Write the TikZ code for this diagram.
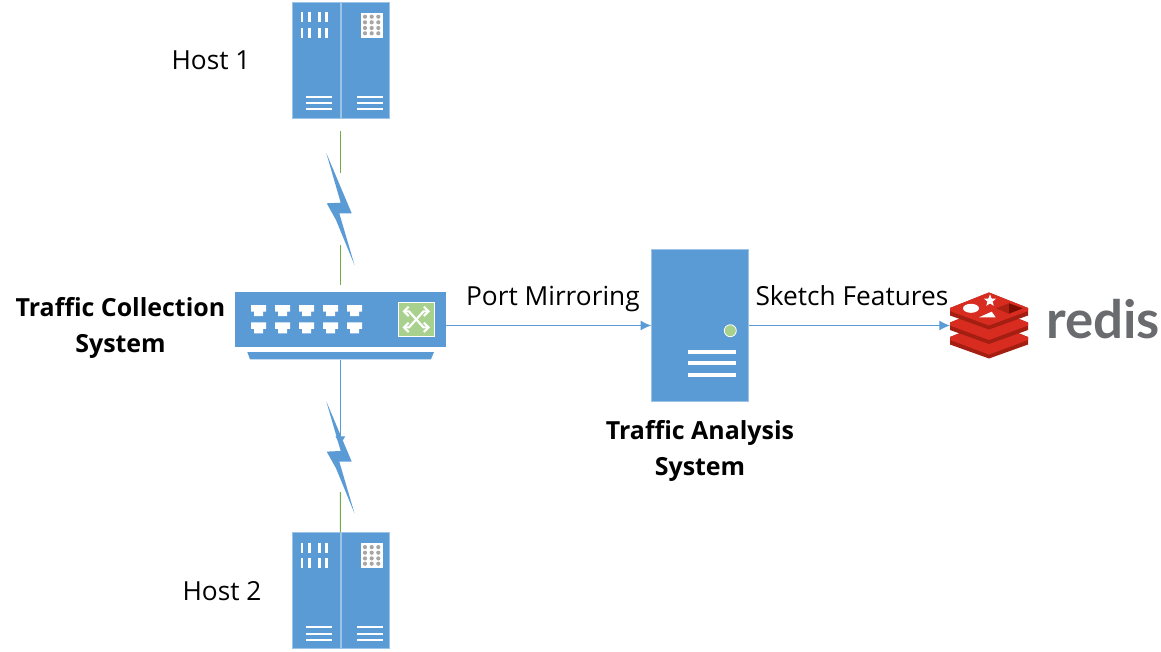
\documentclass[tikz,border=0pt]{standalone}
\usepackage{fontspec}
\setmainfont{Open Sans}
\newfontfamily\logofont{Lato}
\usetikzlibrary{arrows.meta, shapes.geometric}
\definecolor{iconblue}{HTML}{5B9BD5}
\definecolor{iconedge}{HTML}{9DC3E6}
\definecolor{icongreen}{HTML}{A9D18E}
\definecolor{linkgreen}{HTML}{70AD47}
\definecolor{dotgray}{HTML}{A6A6A6}
\definecolor{redisface}{HTML}{D82C20}
\definecolor{redisside}{HTML}{A41E11}
\definecolor{redisdark}{HTML}{7A0C00}
\definecolor{redismid}{HTML}{AD2115}
\definecolor{redistext}{HTML}{6A6B6E}
\begin{document}
\begin{tikzpicture}[x=0.75pt, y=-0.75pt,
  every node/.style={font=\fontsize{19.7}{27}\selectfont, inner sep=0pt, text=black},
  box/.style={draw=iconedge, fill=iconblue, line width=0.6pt, minimum width=#1, rectangle},
  hostbox/.style={box=36pt, minimum height=87pt},
  label/.style={anchor=base, align=center},
  title/.style={anchor=base, align=center, font=\fontsize{18.7}{27}\selectfont\bfseries},
  wire/.style={iconblue, line width=0.8pt},
  greenwire/.style={linkgreen, line width=0.8pt},
  flow/.style={wire, -{Latex[length=8pt, width=7.5pt]}},
  bolt/.style={fill=iconblue, draw=none},
  whitebar/.style={white, line width=1.6pt},
  swap/.style={white, line width=1.6pt, {Straight Barb[length=3.5pt, width=7pt]}-{Straight Barb[length=3.5pt, width=7pt]}}]
  \useasboundingbox (0,0) rectangle (1161,651);
  % hosts
  \foreach \n/\dy in {1/0, 2/530.4} {
    \node[hostbox] (host\n a) at (316,60+\dy) {};
    \node[hostbox] (host\n b) at (365,60+\dy) {};
    \foreach \bx in {302,309.3,319.6,326.8}
      \foreach \by in {17.3,32.7}
        \draw[white, line width=2pt] (\bx,\by-5+\dy) -- (\bx,\by+5+\dy);
    \foreach \by in {97,103.3,109.3} {
      \draw[whitebar] (305.7,\by+\dy) -- (331.7,\by+\dy);
      \draw[whitebar] (357,\by+\dy) -- (382.7,\by+\dy);
    }
    \fill[white] (361,12.7+\dy) rectangle (382.7,37.7+\dy);
    \foreach \bx in {365,371.7,378.3}
      \foreach \by in {16.7,22.3,28,33.3}
        \fill[dotgray] (\bx,\by+\dy) circle (2.1);
  }
  \node[label] (hostlabel1) at (211,69) {Host 1};
  \node[label] (hostlabel2) at (222,600) {Host 2};
  % switch
  \node[box=158.25pt, minimum height=41.5pt, draw=none] (switch) at (340.5,319.3) {};
  \node[box=140pt, minimum height=5.4pt, draw=none, fill=none] (switchbase) at (340.6,355.6) {};
  \fill[iconblue] (247.3,352) -- (434,352) -- (431,359.3) -- (250,359.3) -- cycle;
  \foreach \px in {258.7,282.7,306.7,330.7,354.5}
    \foreach \py in {305,322.3}
      \fill[white] (\px-7.5,\py) -- (\px+7.5,\py) -- (\px+7.5,\py+6.5) -- (\px+4.5,\py+6.5)
        -- (\px+4.5,\py+11) -- (\px-4.5,\py+11) -- (\px-4.5,\py+6.5) -- (\px-7.5,\py+6.5) -- cycle;
  \node[rectangle, draw=white, fill=icongreen, line width=0.7pt, minimum width=27.5pt, minimum height=25.5pt] (fabric) at (416.3,319.4) {};
  \draw[swap] (402.5,311.4) -- (409,311.4) -- (423.5,327.4) -- (430,327.4);
  \draw[swap] (402.5,327.4) -- (409,327.4) -- (423.5,311.4) -- (430,311.4);
  \node[title] (collect) at (120.5,352) {Traffic Collection\\System};
  % server
  \node[box=72.8pt, minimum height=114.3pt] (server) at (700.2,325.5) {};
  \node[circle, draw=white, fill=icongreen, line width=0.6pt, minimum size=9pt] (led) at (730.3,330.7) {};
  \foreach \by in {352,363.3,375}
    \draw[white, line width=3pt] (688.3,\by) -- (736.3,\by);
  \node[title] (analysis) at (700,475) {Traffic Analysis\\System};
  % links
  \coordinate (up1) at (340.3,131);
  \coordinate (up2) at (340.3,173);
  \coordinate (up3) at (340.3,245);
  \coordinate (up4) at (340.3,285);
  \coordinate (down1) at (340.3,447);
  \coordinate (down2) at (340.3,492);
  \coordinate (redislogo) at (950,325.5);
  \draw[greenwire] (up1) -- (up2);
  \draw[greenwire] (up3) -- (up4);
  \draw[flow] (switchbase.south -| down1) -- (down1);
  \draw[greenwire] (down2) -- (host2a.north east);
  \foreach \dy in {0,248.3}
    \fill[bolt] (326.3,153+\dy) -- (340.7,202.7+\dy) -- (326.7,203.3+\dy) -- (336,220+\dy)
      -- (354.5,265+\dy) -- (339.3,213.3+\dy) -- (351.7,213.3+\dy) -- cycle;
  \draw[flow] (switch.east |- server.west) -- (server.west)
    node[pos=0.52, label, yshift=15pt] (mirror) {Port Mirroring};
  \draw[flow] (server.east) -- (redislogo)
    node[pos=0.512, label, yshift=15pt] (features) {Sketch Features};
  % redis logo
  \foreach \dy in {29,14.5,0} {
    \fill[redisside] (950,308+\dy) -- (989,292.5+\dy) -- (1028,308+\dy) -- (1028,315.5+\dy)
      -- (989,329.5+\dy) -- (950,315.5+\dy) -- cycle;
    \fill[redisface] (950,308+\dy) -- (989,292.5+\dy) -- (1028,308+\dy) -- (1028,311+\dy)
      -- (989,325.5+\dy) -- (950,311+\dy) -- cycle;
  }
  \fill[white] (971,308.3) ellipse (8 and 4.5);
  \node[star, star points=5, star point ratio=2.3, fill=white, minimum size=9.5pt, inner sep=0pt] (redisstar) at (990,300.7) {};
  \fill[white] (979,317.3) -- (995.7,317.3) -- (991.7,311.7) -- cycle;
  \fill[redismid] (996,308.3) -- (1009,303.3) -- (1009,313.7) -- cycle;
  \fill[redisdark] (1009,303.3) -- (1022.7,308.3) -- (1009,313.7) -- cycle;
  \node[anchor=base west, font=\logofont\bfseries\fontsize{39.6}{39.6}\selectfont, text=redistext] (redisname) at (1046,338) {redis};
\end{tikzpicture}
\end{document}
